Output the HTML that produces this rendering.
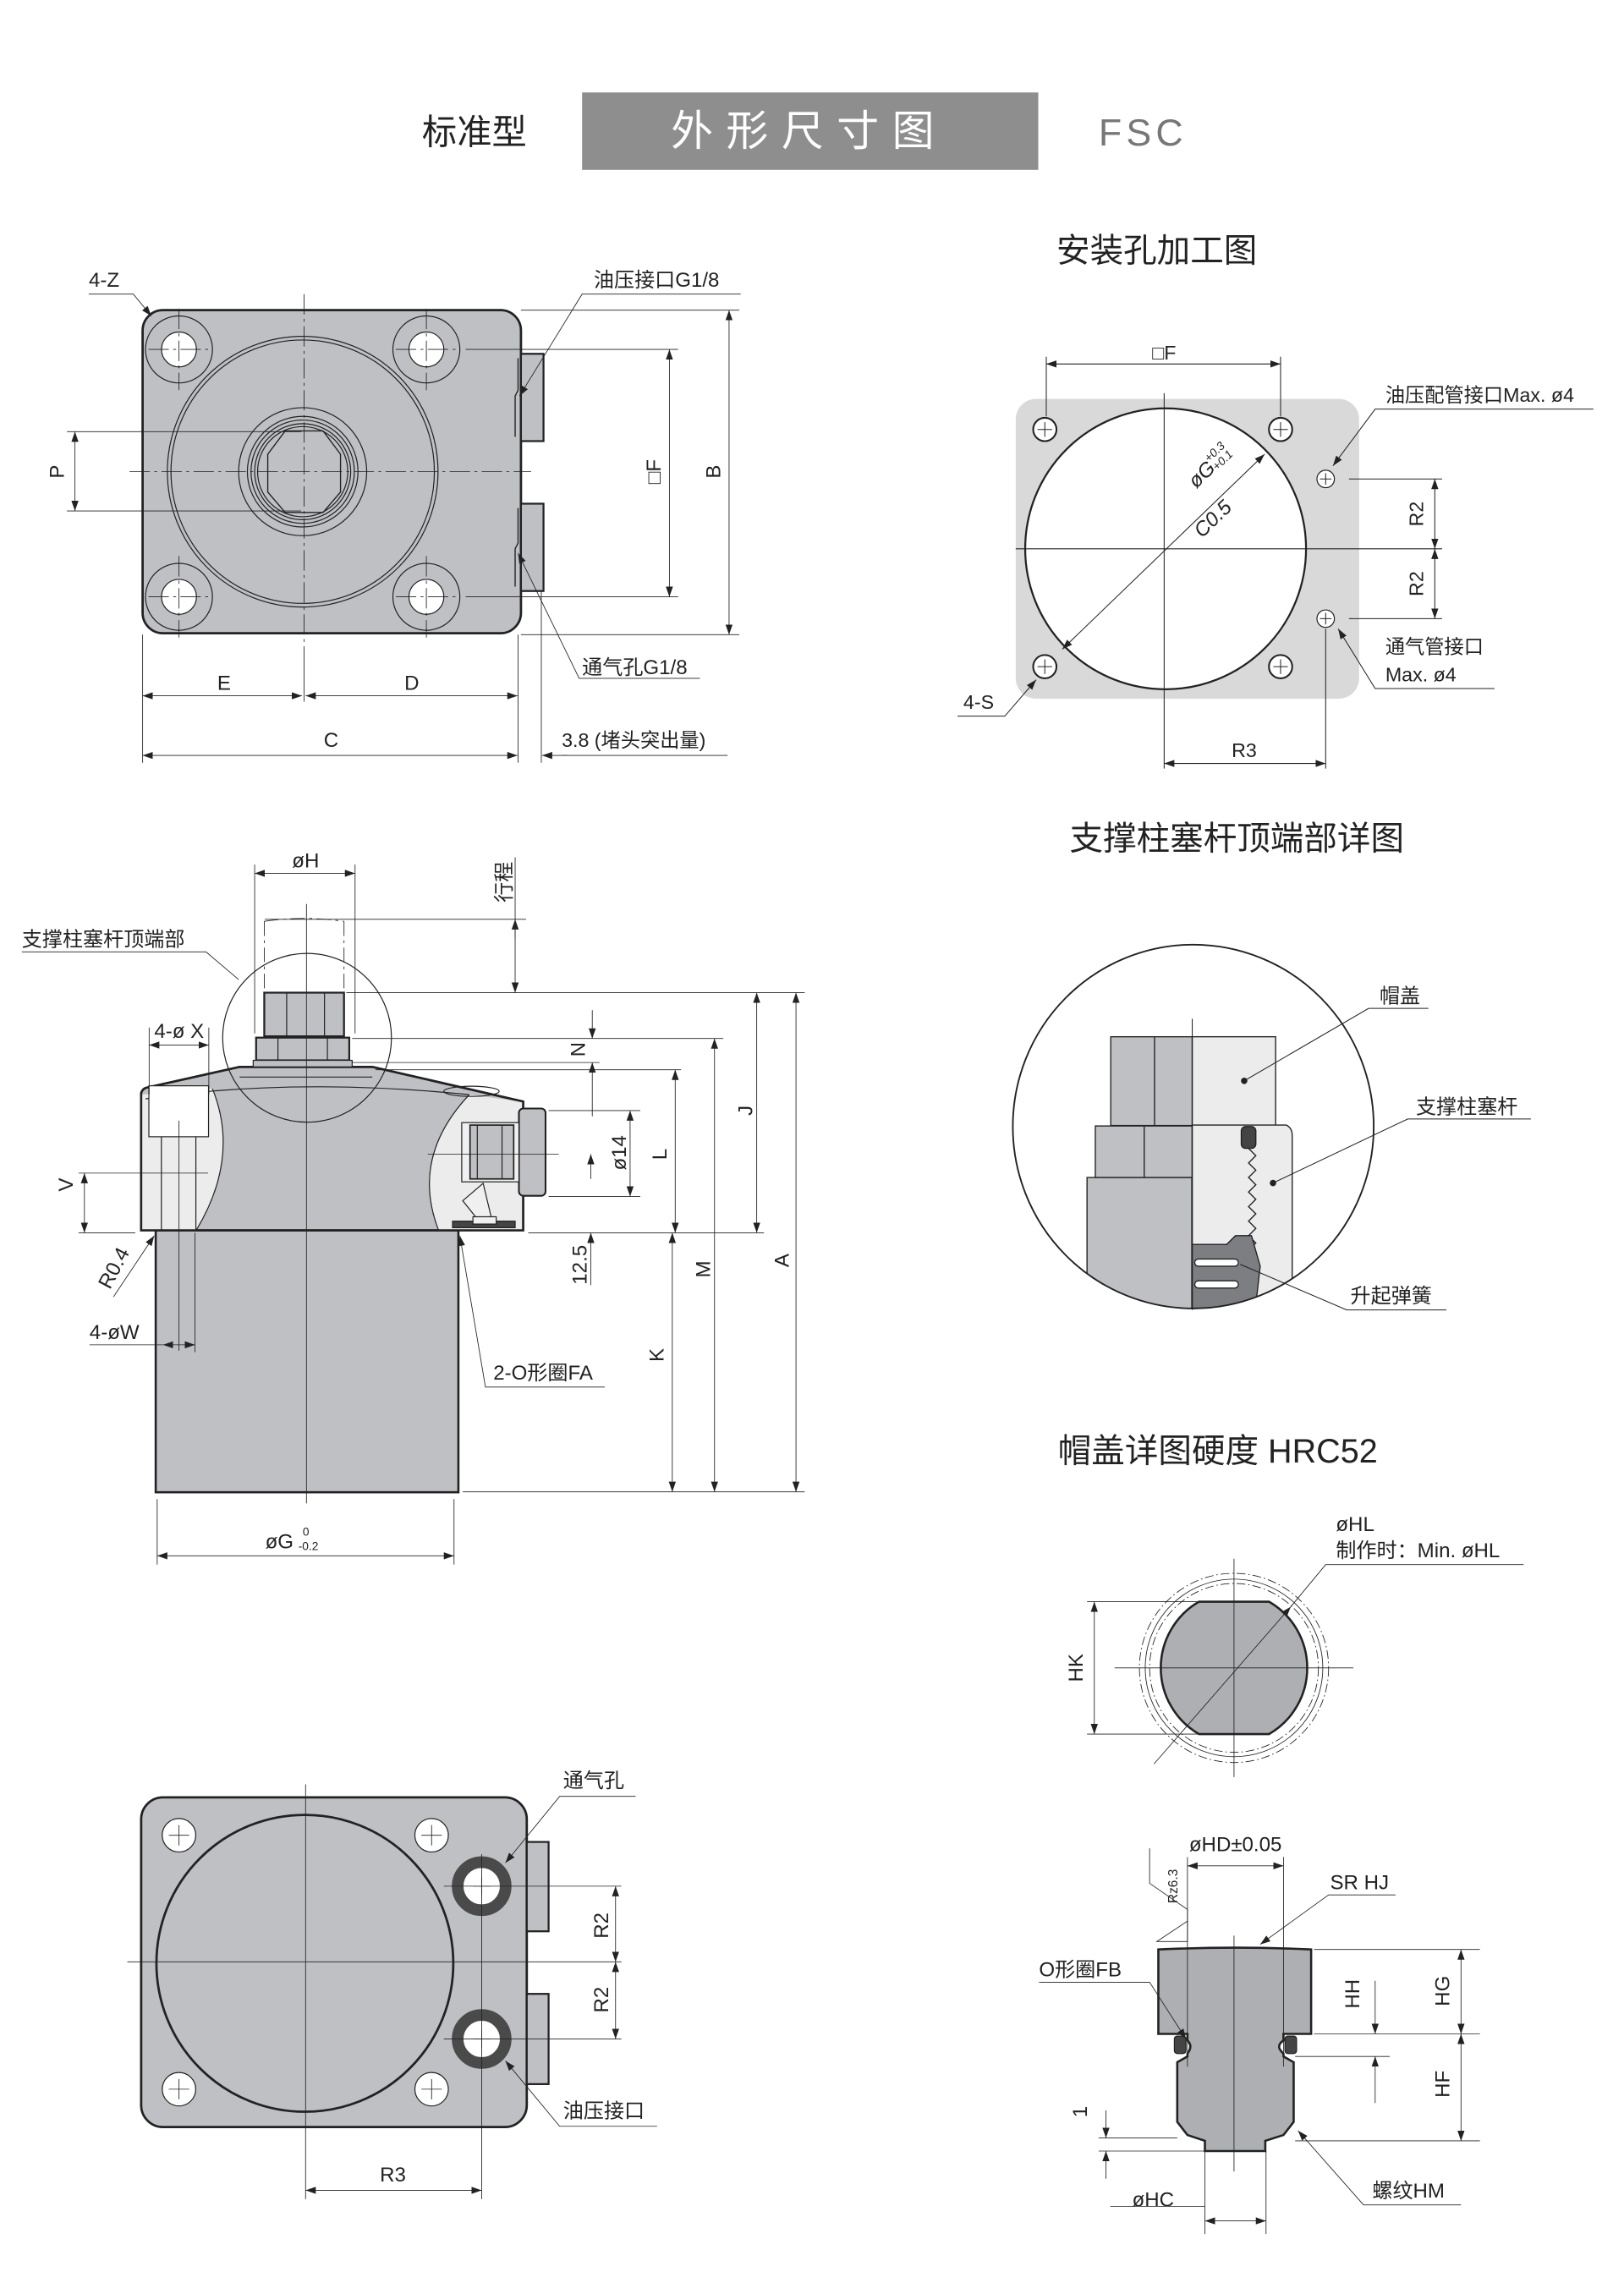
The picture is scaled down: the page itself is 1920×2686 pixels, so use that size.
<!DOCTYPE html>
<html><head><meta charset="utf-8"><style>
html,body{margin:0;padding:0;background:#fff}
svg{display:block}
text{font-family:"Liberation Sans","Noto Sans CJK SC",sans-serif;fill:#222}
</style></head><body>
<svg width="1920" height="2686" viewBox="0 0 1116 1561" xmlns="http://www.w3.org/2000/svg">
<defs>
<marker id="a" viewBox="0 0 10 10" refX="10" refY="5" markerWidth="7" markerHeight="7" orient="auto-start-reverse" markerUnits="userSpaceOnUse"><path d="M0,1.5 L10,5 L0,8.5 Z" fill="#222"/></marker>
</defs>
<g stroke="#222" fill="none" stroke-width="0.7">

<!-- HEADER -->
<rect x="400" y="63.4" width="313.5" height="53.2" fill="#8e8e8e" stroke="none"/>
</g>
<text x="290" y="99" font-size="24">标准型</text>
<text x="556" y="100" font-size="29" text-anchor="middle" letter-spacing="9" style="fill:#fff">外形尺寸图</text>
<text x="755" y="100" font-size="26" letter-spacing="3" style="fill:#777">FSC</text>

<!-- ============ TOP LEFT VIEW ============ -->
<g stroke="#222" fill="none" stroke-width="0.7">
<rect x="98" y="213" width="260" height="222" rx="14" fill="#bfc0c4" stroke-width="1.6"/>
<rect x="358" y="243" width="15.5" height="60" fill="#bfc0c4" stroke-width="1.3"/>
<rect x="358" y="346" width="15.5" height="60" fill="#bfc0c4" stroke-width="1.3"/>
<path d="M356,246 V268 L354,272 V300" stroke-width="0.8"/>
<path d="M356,349 V373 L354,377 V403" stroke-width="0.8"/>
<g fill="#fff"><circle cx="123" cy="240" r="12"/><circle cx="293" cy="240" r="12"/><circle cx="123" cy="410" r="12"/><circle cx="293" cy="410" r="12"/></g>
<circle cx="123" cy="240" r="23"/><circle cx="293" cy="240" r="23"/><circle cx="123" cy="410" r="23"/><circle cx="293" cy="410" r="23"/>
<circle cx="208" cy="324" r="93"/><circle cx="208" cy="324" r="90.5"/>
<circle cx="208" cy="324" r="44"/><circle cx="208" cy="324" r="38"/><circle cx="208" cy="324" r="35.5"/><circle cx="208" cy="324" r="33"/><circle cx="208" cy="324" r="31"/>
<path d="M196,296 H222 L234,312 V338 L222,352 H196 L184,338 V312 Z" stroke-width="0.8"/>
<g stroke-width="0.5" stroke-dasharray="14 3 2 3">
<line x1="209" y1="202" x2="209" y2="446"/><line x1="89" y1="324" x2="365" y2="324"/>
<line x1="123" y1="212" x2="123" y2="268"/><line x1="102" y1="240" x2="144" y2="240"/>
<line x1="293" y1="212" x2="293" y2="268"/><line x1="272" y1="240" x2="314" y2="240"/>
<line x1="123" y1="382" x2="123" y2="438"/><line x1="102" y1="410" x2="144" y2="410"/>
<line x1="293" y1="382" x2="293" y2="438"/><line x1="272" y1="410" x2="314" y2="410"/>
</g>
<g stroke-width="0.5">
<line x1="320" y1="240" x2="466" y2="240"/><line x1="320" y1="410" x2="466" y2="410"/>
<line x1="358" y1="213" x2="508" y2="213"/><line x1="358" y1="436" x2="508" y2="436"/>
<line x1="46" y1="296.5" x2="207" y2="296.5"/><line x1="46" y1="351" x2="207" y2="351"/>
<line x1="98" y1="436" x2="98" y2="524"/><line x1="356" y1="436" x2="356" y2="524"/><line x1="372" y1="406" x2="372" y2="524"/>
<line x1="209" y1="446" x2="209" y2="482"/>
<line x1="460" y1="240" x2="460" y2="410" marker-start="url(#a)" marker-end="url(#a)"/>
<line x1="501" y1="213" x2="501" y2="436" marker-start="url(#a)" marker-end="url(#a)"/>
<line x1="51.5" y1="296.5" x2="51.5" y2="351" marker-start="url(#a)" marker-end="url(#a)"/>
<line x1="98" y1="478" x2="207.5" y2="478" marker-start="url(#a)" marker-end="url(#a)"/>
<line x1="210" y1="478" x2="355.6" y2="478" marker-start="url(#a)" marker-end="url(#a)"/>
<line x1="98" y1="519" x2="355.6" y2="519" marker-start="url(#a)" marker-end="url(#a)"/>
<line x1="390" y1="519" x2="372.5" y2="519" marker-end="url(#a)"/>
<line x1="386" y1="519" x2="500" y2="519"/>
<polyline points="61,202 91.6,202 104,217" marker-end="url(#a)"/>
<polyline points="509,202 400,202 357,272" marker-end="url(#a)"/>
<polyline points="481,466 398,466 356,380" marker-end="url(#a)"/>
</g>
</g>
<g font-size="14">
<text x="39" y="324" text-anchor="middle" transform="rotate(-90 39 324)" dy="5">P</text>
<text x="449" y="324" text-anchor="middle" transform="rotate(-90 449 324)" dy="5">□F</text>
<text x="490" y="324" text-anchor="middle" transform="rotate(-90 490 324)" dy="5">B</text>
<text x="154" y="474" text-anchor="middle">E</text>
<text x="283" y="474" text-anchor="middle">D</text>
<text x="227.5" y="513" text-anchor="middle">C</text>
<text x="386" y="513" font-size="13.5">3.8 (堵头突出量)</text>
<text x="61" y="197">4-Z</text>
<text x="408" y="197">油压接口G1/8</text>
<text x="400" y="463">通气孔G1/8</text>
</g>

<!-- ============ TOP RIGHT: MOUNT HOLE ============ -->
<text x="726" y="180" font-size="23">安装孔加工图</text>
<g stroke="#222" fill="none" stroke-width="0.7">
<rect x="698" y="274" width="236" height="206" rx="14" fill="#d9d9d9" stroke="none"/>
<circle cx="801" cy="377" r="96.5" fill="#fff" stroke-width="1.3"/>
<g fill="#fff" stroke-width="1.2">
<circle cx="718" cy="295" r="8"/><circle cx="880" cy="295" r="8"/><circle cx="718" cy="458" r="8"/><circle cx="880" cy="458" r="8"/>
<circle cx="911" cy="329" r="6" stroke-width="0.7"/><circle cx="911" cy="425" r="6" stroke-width="0.7"/>
</g>
<g stroke-width="0.6">
<path d="M713,295h10M718,290v10M875,295h10M880,290v10M713,458h10M718,453v10M875,458h10M880,453v10M907,329h8M911,325v8M907,425h8M911,421v8"/>
<line x1="698" y1="377" x2="991" y2="377"/><line x1="800" y1="270" x2="800" y2="528"/>
<line x1="719" y1="245" x2="719" y2="286"/><line x1="880" y1="245" x2="880" y2="286"/>
<line x1="719" y1="250" x2="880" y2="250" marker-start="url(#a)" marker-end="url(#a)"/>
<line x1="730" y1="446" x2="869" y2="312" marker-start="url(#a)" marker-end="url(#a)"/>
<line x1="927" y1="329" x2="991" y2="329"/><line x1="927" y1="425" x2="991" y2="425"/>
<line x1="986" y1="329" x2="986" y2="377" marker-start="url(#a)" marker-end="url(#a)"/>
<line x1="986" y1="377" x2="986" y2="425" marker-start="url(#a)" marker-end="url(#a)"/>
<line x1="911" y1="432" x2="911" y2="528"/>
<line x1="800" y1="524.5" x2="911" y2="524.5" marker-start="url(#a)" marker-end="url(#a)"/>
<polyline points="1095,281 945,281 916,320" marker-end="url(#a)"/>
<polyline points="1027,473 945,473 919.6,432" marker-end="url(#a)"/>
<polyline points="658,492 690.5,492 712,467" marker-end="url(#a)"/>
</g>
</g>
<g font-size="13.5">
<text x="800" y="247" text-anchor="middle">□F</text>
<g transform="translate(822,336) rotate(-44)"><text x="0" y="0" font-size="14" font-style="italic">øG</text><text x="19" y="-7" font-size="8" font-style="italic">+0.3</text><text x="19" y="1" font-size="8" font-style="italic">+0.1</text></g>
<text x="0" y="0" font-size="14" font-style="italic" transform="translate(826,370) rotate(-44)">C0.5</text>
<text x="952" y="276">油压配管接口Max. ø4</text>
<text x="973" y="353" text-anchor="middle" transform="rotate(-90 973 353)" dy="5">R2</text>
<text x="973" y="401" text-anchor="middle" transform="rotate(-90 973 401)" dy="5">R2</text>
<text x="952" y="449">通气管接口</text>
<text x="952" y="468">Max. ø4</text>
<text x="662" y="487">4-S</text>
<text x="855" y="520" text-anchor="middle">R3</text>
</g>

<!-- ============ SIDE VIEW ============ -->
<g stroke="#222" fill="none" stroke-width="0.7">
<rect x="107" y="845.3" width="208" height="180" fill="#bfc0c4" stroke-width="1.5"/>
<path d="M97,845.3 V751 Q98,747.5 102,747 L164.7,733 L255.8,733 L359.5,756.8 V845.3 Z" fill="#bfc0c4" stroke-width="1.5"/>
<path d="M97.5,752 L146,748 Q165,795 135,845 L97.5,845 Z" fill="#ececed" stroke="none"/>
<path d="M359,757 L322.6,752 Q282,795 301.3,845 L359,845 Z" fill="#ececed" stroke="none"/>
<path d="M146,748 Q165,795 135,845"/><path d="M322.6,752 Q282,795 301.3,845"/>
<path d="M97,845.3 V751 Q98,747.5 102,747 L164.7,733 L255.8,733 L359.5,756.8 V845.3 Z" stroke-width="1.5"/>
<path d="M100,755 Q200,740 322,752"/>
<line x1="164.7" y1="740" x2="255.8" y2="740"/>
<ellipse cx="324" cy="749.8" rx="19" ry="3.5"/>
<rect x="102.3" y="746" width="41" height="35" fill="#fff"/>
<line x1="110.9" y1="781" x2="110.9" y2="845"/><line x1="134.6" y1="781" x2="134.6" y2="845"/>
<rect x="356.6" y="761.6" width="18.3" height="60" rx="3" fill="#bfc0c4" stroke-width="1.2"/>
<rect x="317.3" y="771.3" width="39.3" height="40.7" fill="#f0f0f0"/>
<rect x="323" y="773" width="30" height="37" fill="#bfc0c4" stroke-width="1"/>
<line x1="328" y1="773" x2="328" y2="810"/><line x1="345" y1="773" x2="345" y2="810"/>
<path d="M318,825 L332,813 L338,838 L330,840 Z" fill="#f0f0f0"/>
<rect x="311" y="839" width="43" height="4.5" fill="#444"/>
<rect x="325" y="836" width="16" height="5" fill="#f0f0f0"/>
<!-- nut -->
<rect x="181.6" y="682" width="54.8" height="30" fill="#bfc0c4" stroke-width="1.3"/>
<line x1="197" y1="682" x2="197" y2="712"/><line x1="223" y1="682" x2="223" y2="712"/>
<rect x="176" y="712.9" width="64" height="15.6" fill="#bfc0c4" stroke-width="1.3"/>
<line x1="191" y1="713" x2="191" y2="728.5"/><line x1="225" y1="713" x2="225" y2="728.5"/>
<rect x="174" y="728.5" width="68" height="4.5" fill="#bfc0c4"/>
<circle cx="211" cy="713" r="58"/>
<g stroke-width="0.5" stroke-dasharray="10 3 2 3">
<line x1="181.6" y1="633" x2="181.6" y2="680"/><line x1="236.4" y1="633" x2="236.4" y2="680"/>
<path d="M181.6,633 Q209,629 236.4,633"/>
</g>
<g stroke-width="0.5">
<line x1="210.6" y1="621" x2="210.6" y2="1033"/>
<line x1="123" y1="770" x2="123" y2="928"/>
<line x1="175" y1="594" x2="175" y2="710"/><line x1="244" y1="594" x2="244" y2="710"/>
<line x1="175" y1="600" x2="244" y2="600" marker-start="url(#a)" marker-end="url(#a)"/>
<line x1="182" y1="631.6" x2="361.5" y2="631.6"/>
<line x1="354" y1="589" x2="354" y2="631.6" />
<line x1="354" y1="645" x2="354" y2="631.6" marker-end="url(#a)"/>
<line x1="354" y1="631.6" x2="354" y2="682" marker-end="url(#a)"/>
<line x1="238" y1="682" x2="553" y2="682"/>
<line x1="242" y1="713.5" x2="497" y2="713.5"/>
<line x1="242" y1="730" x2="412" y2="730"/>
<line x1="258" y1="735" x2="468" y2="735"/>
<line x1="377" y1="763" x2="440" y2="763"/><line x1="377" y1="822" x2="440" y2="822"/>
<line x1="294" y1="793" x2="384" y2="793"/>
<line x1="54" y1="806" x2="143" y2="806"/>
<line x1="54" y1="847" x2="93" y2="847"/><line x1="363" y1="847" x2="525" y2="847"/>
<line x1="318" y1="1025" x2="553" y2="1025"/>
<line x1="547" y1="682" x2="547" y2="1025" marker-start="url(#a)" marker-end="url(#a)"/>
<line x1="520" y1="682" x2="520" y2="847" marker-start="url(#a)" marker-end="url(#a)"/>
<line x1="491" y1="713.5" x2="491" y2="1025" marker-start="url(#a)" marker-end="url(#a)"/>
<line x1="464" y1="735" x2="464" y2="847" marker-start="url(#a)" marker-end="url(#a)"/>
<line x1="462" y1="847" x2="462" y2="1025" marker-start="url(#a)" marker-end="url(#a)"/>
<line x1="407" y1="694" x2="407" y2="713.5" marker-end="url(#a)"/>
<line x1="407" y1="767" x2="407" y2="730" marker-end="url(#a)"/>
<line x1="433" y1="763" x2="433" y2="822" marker-start="url(#a)" marker-end="url(#a)"/>
<line x1="406" y1="883" x2="406" y2="847" marker-end="url(#a)"/>
<line x1="406" y1="810" x2="406" y2="793" marker-end="url(#a)"/>
<line x1="58" y1="806" x2="58" y2="847" marker-start="url(#a)" marker-end="url(#a)"/>
<line x1="102.5" y1="706" x2="102.5" y2="752"/><line x1="143.5" y1="706" x2="143.5" y2="752"/>
<line x1="102.5" y1="718" x2="143.5" y2="718" marker-start="url(#a)" marker-end="url(#a)"/>
<polyline points="78,891 106,849" marker-end="url(#a)"/>
<line x1="61.5" y1="924" x2="112" y2="924"/>
<line x1="112" y1="924" x2="134" y2="924" marker-start="url(#a)" marker-end="url(#a)"/>
<line x1="134" y1="847" x2="134" y2="929"/>
<polyline points="415.6,953 333.6,953 316,849" marker-end="url(#a)"/>
<polyline points="15,654 141.6,654 164,673"/>
<line x1="108" y1="1030" x2="108" y2="1075"/><line x1="312" y1="1030" x2="312" y2="1075"/>
<line x1="108" y1="1069" x2="312" y2="1069" marker-start="url(#a)" marker-end="url(#a)"/>
</g>
</g>
<g font-size="14">
<text x="210" y="596" text-anchor="middle">øH</text>
<text x="346" y="606" text-anchor="middle" transform="rotate(-90 346 606)" dy="5">行程</text>
<text x="15" y="650">支撑柱塞杆顶端部</text>
<text x="106" y="713">4-ø X</text>
<text x="397" y="721" text-anchor="middle" transform="rotate(-90 397 721)" dy="5">N</text>
<text x="425" y="792" text-anchor="middle" transform="rotate(-90 425 792)" dy="5">ø14</text>
<text x="453" y="793" text-anchor="middle" transform="rotate(-90 453 793)" dy="5">L</text>
<text x="512" y="763" text-anchor="middle" transform="rotate(-90 512 763)" dy="5">J</text>
<text x="45" y="814" text-anchor="middle" transform="rotate(-90 45 814)" dy="5">V</text>
<text x="78" y="871" text-anchor="middle" transform="rotate(-62 78 871)" dy="5">R0.4</text>
<text x="398" y="869" text-anchor="middle" transform="rotate(-90 398 869)" dy="5">12.5</text>
<text x="483" y="872" text-anchor="middle" transform="rotate(-90 483 872)" dy="5">M</text>
<text x="537" y="866" text-anchor="middle" transform="rotate(-90 537 866)" dy="5">A</text>
<text x="451" y="931" text-anchor="middle" transform="rotate(-90 451 931)" dy="5">K</text>
<text x="61.5" y="920">4-øW</text>
<text x="339" y="948">2-O形圈FA</text>
<text x="192" y="1064" text-anchor="middle">øG</text>
<text x="208" y="1055" font-size="8">0</text>
<text x="205" y="1065" font-size="8">-0.2</text>
</g>

<!-- ============ BOTTOM LEFT ============ -->
<g stroke="#222" fill="none" stroke-width="0.7">
<rect x="97" y="1235" width="265" height="226.5" rx="15" fill="#bfc0c4" stroke-width="1.6"/>
<rect x="362" y="1265.6" width="15" height="61.4" fill="#bfc0c4" stroke-width="1.3"/>
<rect x="362" y="1370" width="15" height="62" fill="#bfc0c4" stroke-width="1.3"/>
<circle cx="209.5" cy="1349" r="102" stroke-width="1.6"/>
<g fill="#fff"><circle cx="123" cy="1261" r="11.5"/><circle cx="296.6" cy="1261" r="11.5"/><circle cx="123" cy="1435.5" r="11.5"/><circle cx="296.6" cy="1435.5" r="11.5"/></g>
<circle cx="331" cy="1296" r="16.5" stroke="#4a4a4a" stroke-width="8" fill="#fff"/>
<circle cx="331" cy="1401" r="16.5" stroke="#4a4a4a" stroke-width="8" fill="#fff"/>
<g stroke-width="0.5">
<path d="M116,1261h14M123,1254v14M289.6,1261h14M296.6,1254v14M116,1435.5h14M123,1428.5v14M289.6,1435.5h14M296.6,1428.5v14M325,1296h12M331,1290v12M325,1401h12M331,1395v12"/>
<line x1="210" y1="1226" x2="210" y2="1511"/><line x1="87.5" y1="1348" x2="427" y2="1348"/>
<line x1="331" y1="1274" x2="331" y2="1511"/>
<line x1="305" y1="1296" x2="427" y2="1296"/><line x1="305" y1="1401" x2="427" y2="1401"/>
<line x1="423" y1="1296" x2="423" y2="1348" marker-start="url(#a)" marker-end="url(#a)"/>
<line x1="423" y1="1348" x2="423" y2="1401" marker-start="url(#a)" marker-end="url(#a)"/>
<line x1="210" y1="1505" x2="331" y2="1505" marker-start="url(#a)" marker-end="url(#a)"/>
<polyline points="436.8,1234.3 384.6,1234.3 347.3,1280" marker-end="url(#a)"/>
<polyline points="451.5,1461 384.6,1461 347.3,1416" marker-end="url(#a)"/>
</g>
</g>
<g font-size="14">
<text x="387" y="1228">通气孔</text>
<text x="387" y="1455">油压接口</text>
<text x="413" y="1323" text-anchor="middle" transform="rotate(-90 413 1323)" dy="5">R2</text>
<text x="413" y="1374" text-anchor="middle" transform="rotate(-90 413 1374)" dy="5">R2</text>
<text x="270" y="1499" text-anchor="middle">R3</text>
</g>

<!-- ============ DETAIL CIRCLE ============ -->
<text x="735" y="584" font-size="23">支撑柱塞杆顶端部详图</text>
<g stroke="#222" fill="none" stroke-width="0.8">
<defs><clipPath id="dc"><ellipse cx="820" cy="774" rx="124" ry="125"/></clipPath></defs>
<g clip-path="url(#dc)">
<rect x="747" y="809" width="72" height="100" fill="#bfc0c4"/>
<rect x="752.7" y="773.6" width="66.5" height="35.4" fill="#bfc0c4"/>
<line x1="786.3" y1="774" x2="786.3" y2="809"/>
<rect x="763.3" y="712.3" width="56" height="61" fill="#bfc0c4"/>
<line x1="793.4" y1="712.3" x2="793.4" y2="773"/>
<rect x="819.3" y="712.3" width="57.3" height="61" fill="#ececed"/>
<path d="M819.3,773 H884 Q888,775 888,780 V880 L870,905 H819.3 Z" fill="#ececed"/>
<rect x="853" y="774" width="10" height="15" rx="3" fill="#444"/>
<path d="M858,789 l5,5 l-5,5 l5,5 l-5,5 l5,5 l-5,5 l5,5 l-5,5 l5,5 l-5,5 l5,5 l-5,5 l5,5 l-5,5 l5,5" />
<path d="M819.3,855 H843 L849,849 H860 L866,870 L862,905 H819.3 Z" fill="#7d7e82"/>
<rect x="821" y="865" width="30" height="5" rx="2.5" fill="#fff"/>
<rect x="821" y="880" width="30" height="5" rx="2.5" fill="#fff"/>
</g>
<ellipse cx="820" cy="774" rx="124" ry="125" stroke-width="1.1"/>
<line x1="819.3" y1="700" x2="819.3" y2="900" stroke-width="0.6"/>
<circle cx="855" cy="742.6" r="1.8" fill="#222"/>
<circle cx="874.8" cy="812.8" r="1.8" fill="#222"/>
<g stroke-width="0.6">
<polyline points="981.6,692.8 940.5,692.8 855,742.6"/>
<polyline points="1052,768.8 967.4,768.8 874.8,812.8"/>
<polyline points="994,900 925.4,900 852.3,868.7"/>
</g>
</g>
<g font-size="14">
<text x="948" y="689">帽盖</text>
<text x="973" y="765">支撑柱塞杆</text>
<text x="928" y="895">升起弹簧</text>
</g>

<!-- ============ CAP DETAIL ============ -->
<text x="727" y="1005" font-size="23">帽盖详图硬度 HRC52</text>
<g stroke="#222" fill="none" stroke-width="0.7">
<circle cx="848" cy="1146" r="65" stroke-width="0.5" stroke-dasharray="6 2 1 2"/>
<circle cx="848" cy="1146" r="61" stroke-width="0.5"/>
<circle cx="848" cy="1146" r="58" stroke-width="0.5" stroke-dasharray="6 2 1 2"/>
<path d="M824,1100.5 H872 A52.5,52.5 0 0 1 872,1191.5 H824 A52.5,52.5 0 0 1 824,1100.5 Z" fill="#aeafb3" stroke-width="1.5"/>
<g stroke-width="0.5">
<line x1="766" y1="1146" x2="930" y2="1146"/><line x1="848" y1="1071" x2="848" y2="1221"/>
<line x1="793" y1="1212" x2="887" y2="1104" marker-end="url(#a)"/>
<polyline points="887,1104 911,1075 1047,1075"/>
<line x1="747" y1="1100.5" x2="826" y2="1100.5"/><line x1="747" y1="1191.5" x2="826" y2="1191.5"/>
<line x1="752" y1="1100.5" x2="752" y2="1191.5" marker-start="url(#a)" marker-end="url(#a)"/>
</g>
<!-- side -->
<path d="M796,1339.5 Q850,1337 901,1339.5 V1397.5 H882 V1402 Q876,1406 882,1411 V1413 L889,1417 V1458 L882,1467 L869.5,1471 V1478 H828 V1471 L816,1467 L809,1458 V1417 L816,1413 V1411 Q820,1406 816,1402 V1397.5 H796 Z" fill="#aeafb3" stroke-width="1.5"/>
<rect x="807" y="1399" width="8" height="12" rx="2" fill="#444"/>
<rect x="883" y="1399" width="8" height="12" rx="2" fill="#444"/>
<g stroke-width="0.5">
<line x1="848" y1="1330" x2="848" y2="1492"/>
<line x1="816" y1="1276" x2="816" y2="1420"/><line x1="882" y1="1276" x2="882" y2="1420"/>
<line x1="816" y1="1282" x2="882" y2="1282" marker-start="url(#a)" marker-end="url(#a)"/>
<polyline points="790,1270 790,1294 816,1312 816,1322"/>
<path d="M795,1334 L816,1320 V1334 Z"/>
<polyline points="959,1302 913,1302 866,1336" marker-end="url(#a)"/>
<polyline points="714,1362 790,1362 815,1401" marker-end="url(#a)"/>
<line x1="903" y1="1339.5" x2="1017" y2="1339.5"/><line x1="903" y1="1397.5" x2="1017" y2="1397.5"/>
<line x1="890" y1="1413" x2="955" y2="1413"/><line x1="890" y1="1471" x2="1017" y2="1471"/>
<line x1="1004" y1="1339.5" x2="1004" y2="1397.5" marker-start="url(#a)" marker-end="url(#a)"/>
<line x1="1004" y1="1397.5" x2="1004" y2="1471" marker-start="url(#a)" marker-end="url(#a)"/>
<line x1="945" y1="1361" x2="945" y2="1397.5" marker-end="url(#a)"/>
<line x1="945" y1="1445" x2="945" y2="1413" marker-end="url(#a)"/>
<line x1="755" y1="1469" x2="809" y2="1469"/><line x1="755" y1="1478" x2="828" y2="1478"/>
<line x1="760" y1="1450" x2="760" y2="1469" marker-end="url(#a)"/>
<line x1="760" y1="1497" x2="760" y2="1478" marker-end="url(#a)"/>
<line x1="828" y1="1478" x2="828" y2="1535"/><line x1="870" y1="1478" x2="870" y2="1535"/>
<line x1="828" y1="1526" x2="870" y2="1526" marker-start="url(#a)" marker-end="url(#a)"/>
<line x1="763" y1="1516" x2="828" y2="1516"/>
<polyline points="1004,1515 937,1515 892,1464" marker-end="url(#a)"/>
</g>
</g>
<g font-size="14">
<text x="739" y="1146" text-anchor="middle" transform="rotate(-90 739 1146)" dy="5">HK</text>
<text x="918" y="1052">øHL</text>
<text x="918" y="1070">制作时：Min. øHL</text>
<text x="849" y="1272" text-anchor="middle">øHD±0.05</text>
<text x="806" y="1296" text-anchor="middle" font-size="9" transform="rotate(-90 806 1296)" dy="3">Rz6.3</text>
<text x="914" y="1298">SR HJ</text>
<text x="714" y="1358">O形圈FB</text>
<text x="929" y="1370" text-anchor="middle" transform="rotate(-90 929 1370)" dy="5">HH</text>
<text x="991" y="1368" text-anchor="middle" transform="rotate(-90 991 1368)" dy="5">HG</text>
<text x="991" y="1432" text-anchor="middle" transform="rotate(-90 991 1432)" dy="5">HF</text>
<text x="742" y="1451" text-anchor="middle" transform="rotate(-90 742 1451)" dy="5">1</text>
<text x="778" y="1516">øHC</text>
<text x="943" y="1510">螺纹HM</text>
</g>
</svg>
</body></html>
